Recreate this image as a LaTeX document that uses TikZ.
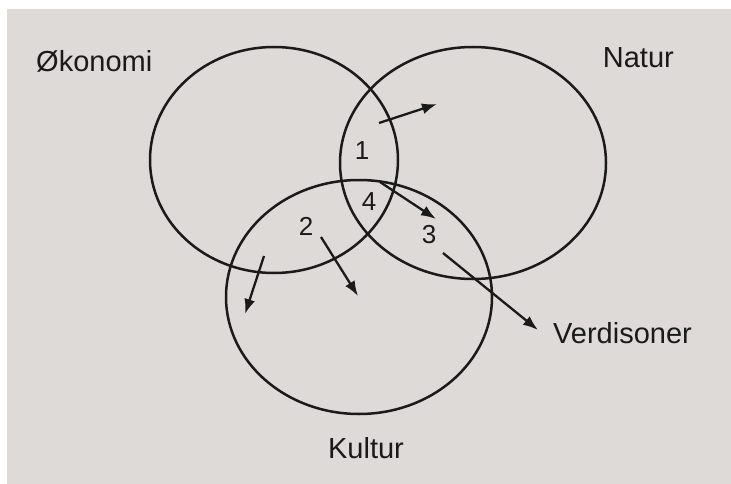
\documentclass[tikz,border=0pt]{standalone}
\usepackage{fontspec}
\setmainfont{Liberation Sans}
\usetikzlibrary{arrows.meta}
\definecolor{paper}{HTML}{DDDAD7}
\definecolor{ink}{HTML}{1A1A1A}
\begin{document}
\begin{tikzpicture}[x=1pt,y=-1pt,
  ring/.style={draw=ink,line width=2.5pt},
  lbl/.style={inner sep=0pt,text=ink,font=\fontsize{29}{33}\selectfont},
  num/.style={inner sep=0pt,text=ink,font=\fontsize{26}{30}\selectfont,anchor=base},
  arr/.style={draw=ink,line width=2.3pt,-{Latex[length=15pt,width=11pt]}}]
\useasboundingbox (0,0) rectangle (731,484);
\fill[white] (0,0) rectangle (731,484);
\fill[paper] (7,9) rectangle (731,484);
\draw[ring] (274,160) ellipse [x radius=124, y radius=113];
\draw[ring] (473,163) ellipse [x radius=133, y radius=116];
\draw[ring] (359,297) ellipse [x radius=133, y radius=117];
\node[lbl,anchor=base west] (ok) at (36,72) {Økonomi};
\node[lbl,anchor=base east] (na) at (674,68) {Natur};
\node[lbl,anchor=base] (ku) at (366,458) {Kultur};
\node[lbl,anchor=base west] (ve) at (553,343) {Verdisoner};
\node[num] (n1) at (362,160) {1};
\node[num] (n4) at (369,210) {4};
\node[num] (n2) at (306,235) {2};
\node[num] (n3) at (429,243) {3};
\coordinate (a1s) at (379,123); \coordinate (a1e) at (437,104);
\coordinate (a4s) at (380,182); \coordinate (a4e) at (436,219);
\coordinate (a2s) at (321,237); \coordinate (a2e) at (358,296);
\coordinate (a5s) at (264,256); \coordinate (a5e) at (245,314);
\coordinate (a3s) at (443,253); \coordinate (a3e) at (538,330);
\draw[arr] (a1s) -- (a1e);
\draw[arr] (a4s) -- (a4e);
\draw[arr] (a2s) -- (a2e);
\draw[arr] (a5s) -- (a5e);
\draw[arr] (a3s) -- (a3e);
\end{tikzpicture}
\end{document}
